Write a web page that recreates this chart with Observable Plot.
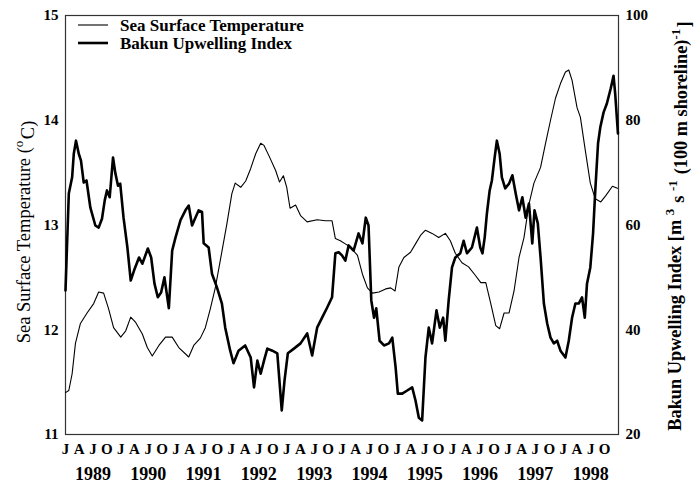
<!DOCTYPE html>
<html>
<head>
<meta charset="utf-8">
<script src="https://cdn.jsdelivr.net/npm/d3@7"></script>
<script src="https://cdn.jsdelivr.net/npm/@observablehq/plot@0.6"></script>
<style>
  html, body { margin: 0; padding: 0; background: #fff; }
</style>
</head>
<body>
<div id="chart"></div>
<script>
// Sea surface temperature (°C), decimal year vs value
const sstYear = [
  1989.00, 1989.06, 1989.12, 1989.18, 1989.27, 1989.39, 1989.51, 1989.60, 1989.69, 1989.78, 1989.87,
  1990.00, 1990.09, 1990.18, 1990.27, 1990.39, 1990.48, 1990.57, 1990.69, 1990.81, 1990.93,
  1991.05, 1991.23, 1991.32, 1991.44, 1991.53, 1991.62, 1991.71, 1991.80, 1991.92,
  1992.01, 1992.07, 1992.17, 1992.26, 1992.35, 1992.44, 1992.53, 1992.59, 1992.68, 1992.80, 1992.87, 1992.94,
  1993.00, 1993.06, 1993.16, 1993.25, 1993.37, 1993.55, 1993.70, 1993.82, 1993.88, 1993.97,
  1994.06, 1994.15, 1994.28, 1994.37, 1994.46, 1994.55, 1994.67, 1994.79, 1994.88, 1994.96,
  1995.03, 1995.12, 1995.24, 1995.33, 1995.42, 1995.51, 1995.63, 1995.75, 1995.87, 1995.96,
  1996.05, 1996.17, 1996.29, 1996.41, 1996.51, 1996.60, 1996.69, 1996.78, 1996.85, 1996.93,
  1997.02, 1997.11, 1997.20, 1997.29, 1997.38, 1997.47, 1997.59, 1997.68, 1997.77, 1997.86, 1997.95,
  1998.04, 1998.10, 1998.16, 1998.25, 1998.31, 1998.40, 1998.49, 1998.58, 1998.68, 1998.77, 1998.89, 1998.98
];
const sstValue = [
  11.40, 11.42, 11.58, 11.87, 12.06, 12.16, 12.25, 12.36, 12.35, 12.20, 12.02,
  11.93, 11.99, 12.12, 12.07, 11.96, 11.83, 11.75, 11.85, 11.93, 11.93,
  11.83, 11.74, 11.85, 11.92, 12.02, 12.20, 12.40, 12.66, 13.01,
  13.30, 13.40, 13.36, 13.42, 13.54, 13.68, 13.78, 13.76, 13.66, 13.52, 13.41, 13.47,
  13.36, 13.16, 13.19, 13.09, 13.03, 13.05, 13.04, 13.04, 12.87, 12.85,
  12.82, 12.79, 12.71, 12.53, 12.40, 12.35, 12.36, 12.39, 12.40, 12.37,
  12.60, 12.69, 12.74, 12.82, 12.90, 12.95, 12.92, 12.88, 12.92, 12.85,
  12.73, 12.64, 12.60, 12.52, 12.45, 12.45, 12.25, 12.04, 12.01, 12.16,
  12.16, 12.37, 12.69, 12.88, 13.20, 13.40, 13.55, 13.78, 14.00, 14.21, 14.35,
  14.46, 14.48, 14.38, 14.12, 14.03, 13.71, 13.40, 13.25, 13.22, 13.28, 13.37, 13.35
];

// Bakun upwelling index [m3 s-1 (100 m shoreline)-1], decimal year vs value
const bakunYear = [
  1989.00, 1989.06, 1989.12, 1989.15, 1989.19, 1989.24, 1989.28, 1989.33, 1989.38, 1989.45, 1989.54,
  1989.60, 1989.66, 1989.71, 1989.75, 1989.80, 1989.86, 1989.90, 1989.95, 1989.99,
  1990.05, 1990.12, 1990.18, 1990.24, 1990.33, 1990.39, 1990.49, 1990.55, 1990.61, 1990.67, 1990.73,
  1990.79, 1990.87, 1990.93, 1990.99,
  1991.08, 1991.17, 1991.23, 1991.29, 1991.35, 1991.41, 1991.47, 1991.50, 1991.59, 1991.65, 1991.74,
  1991.83, 1991.89, 1991.98,
  1992.04, 1992.13, 1992.25, 1992.35, 1992.41, 1992.47, 1992.53, 1992.59, 1992.65, 1992.74, 1992.83,
  1992.91, 1992.96,
  1993.02, 1993.13, 1993.25, 1993.37, 1993.46, 1993.55, 1993.64, 1993.73, 1993.82, 1993.88, 1993.94,
  1994.00, 1994.06, 1994.12, 1994.21, 1994.30, 1994.37, 1994.43, 1994.48, 1994.53, 1994.58, 1994.62,
  1994.68, 1994.76, 1994.85, 1994.91, 1994.97,
  1995.01, 1995.09, 1995.18, 1995.27, 1995.33, 1995.39, 1995.45, 1995.51, 1995.57, 1995.63, 1995.71,
  1995.77, 1995.83, 1995.87, 1995.93, 1995.99,
  1996.05, 1996.14, 1996.20, 1996.26, 1996.35, 1996.44, 1996.50, 1996.54, 1996.58, 1996.62, 1996.67,
  1996.71, 1996.76, 1996.80, 1996.85, 1996.89, 1996.95,
  1997.02, 1997.08, 1997.14, 1997.20, 1997.26, 1997.32, 1997.38, 1997.44, 1997.48, 1997.54, 1997.59,
  1997.65, 1997.71, 1997.77, 1997.83, 1997.89, 1997.95,
  1998.04, 1998.10, 1998.16, 1998.22, 1998.28, 1998.34, 1998.39, 1998.43, 1998.49, 1998.54, 1998.58,
  1998.63, 1998.67, 1998.73, 1998.79, 1998.86, 1998.91, 1998.94, 1998.99
];
const bakunValue = [
  47.5, 66.0, 69.1, 73.6, 76.1, 73.6, 72.3, 68.1, 68.5, 63.3, 59.9,
  59.5, 61.2, 64.7, 66.6, 65.3, 72.9, 70.0, 67.5, 67.9,
  61.4, 55.7, 49.4, 51.3, 53.8, 52.6, 55.5, 53.8, 48.8, 46.2, 47.1,
  50.0, 44.1, 55.1, 57.6,
  60.9, 62.8, 63.7, 59.9, 61.4, 62.8, 62.5, 56.5, 55.7, 50.7, 48.1,
  45.0, 40.4, 36.0,
  33.6, 36.0, 37.0, 34.7, 29.0, 34.1, 31.6, 34.1, 36.4, 36.0, 35.5,
  24.6, 30.3,
  35.5, 36.4, 37.4, 39.3, 35.1, 40.4, 42.3, 44.2, 46.2, 54.6, 54.8,
  54.2, 53.2, 56.1, 55.1, 58.4, 56.5, 61.4, 59.9, 45.6, 42.3, 44.1,
  37.9, 37.0, 37.4, 38.5, 32.8,
  27.8, 27.8, 28.4, 29.0, 26.5, 23.2, 22.7, 34.7, 40.4, 37.4, 43.7,
  40.4, 42.3, 37.9, 45.6, 51.9,
  53.8, 54.6, 57.0, 54.6, 55.7, 59.5, 55.7, 54.6, 57.6, 62.2, 66.6,
  68.5, 72.9, 76.1, 73.6, 69.1, 67.0,
  67.9, 69.5, 66.0, 62.8, 65.3, 61.4, 64.1, 56.5, 62.8, 60.3, 53.8,
  45.0, 41.2, 38.5, 37.4, 37.9, 36.0,
  34.7, 37.9, 42.3, 45.0, 45.0, 46.2, 42.3, 48.8, 51.9, 58.4, 66.6,
  75.6, 78.6, 81.5, 83.2, 86.1, 88.5, 85.1, 77.5
];

// Axis tick values and labels
const sstTicks = [11, 12, 13, 14, 15];
const bakunTicks = [20, 40, 60, 80, 100];
const quarterLetters = ["J", "A", "J", "O"];
const years = [1989, 1990, 1991, 1992, 1993, 1994, 1995, 1996, 1997, 1998];

// Decimal year -> UTC Date
function toDate(y) {
  const yr = Math.floor(y + 1e-9);
  const start = Date.UTC(yr, 0, 1), end = Date.UTC(yr + 1, 0, 1);
  return new Date(start + (y - yr) * (end - start));
}

// The upwelling index shares the temperature scale: 20..100 maps onto 11..15
const bakunToY = b => 11 + (b - 20) / 20;

const sst = sstYear.map((y, i) => ({date: toDate(y), value: sstValue[i]}));
const bakun = bakunYear.map((y, i) => ({date: toDate(y), value: bakunValue[i]}));

const start = new Date(Date.UTC(years[0], 0, 1));
const end = new Date(Date.UTC(years[years.length - 1] + 1, 0, 1));
const quarterTicks = d3.utcMonths(start, end, 3);
const yearTicks = years.map(y => new Date(Date.UTC(y, 6, 1)));

const font = "'Liberation Serif', 'Times New Roman', serif";

const chart = Plot.plot({
  width: 695,
  height: 485,
  marginLeft: 65,
  marginRight: 77,
  marginTop: 15,
  marginBottom: 51,
  style: {fontFamily: font, fontWeight: "bold", background: "#fff", color: "#000"},
  x: {type: "utc", domain: [start, end], axis: null},
  y: {domain: [11, 15], axis: null},
  marks: [
    Plot.frame({stroke: "#333", strokeWidth: 1.2}),
    Plot.line(sst, {x: "date", y: "value", stroke: "#000", strokeWidth: 1.1}),
    Plot.line(bakun, {x: "date", y: d => bakunToY(d.value), stroke: "#000", strokeWidth: 2.6, strokeLinejoin: "round"}),
    // left temperature ticks
    Plot.text(sstTicks, {y: d => d, text: d => String(d), frameAnchor: "left", textAnchor: "end",
      dx: -7, fontSize: 15, fontWeight: "bold"}),
    // right upwelling ticks
    Plot.text(bakunTicks, {y: d => bakunToY(d), text: d => String(d), frameAnchor: "right", textAnchor: "start",
      dx: 7, fontSize: 15, fontWeight: "bold"}),
    // quarter initials
    Plot.text(quarterTicks, {x: d => d, text: d => quarterLetters[d.getUTCMonth() / 3], frameAnchor: "bottom",
      lineAnchor: "top", dy: 9, fontSize: 15, fontWeight: "bold"}),
    // year labels centred on each year
    Plot.text(yearTicks, {x: d => d, text: d => String(d.getUTCFullYear()), frameAnchor: "bottom",
      lineAnchor: "top", dy: 33, fontSize: 18, fontWeight: "bold"})
  ]
});

document.getElementById("chart").appendChild(chart);

const svg = d3.select(chart);

// Legend inside the upper-left corner of the frame
const legend = svg.append("g")
  .attr("font-family", font).attr("font-weight", "bold").attr("font-size", 17)
  .attr("text-anchor", "start");
[["Sea Surface Temperature", 1.1, 25], ["Bakun Upwelling Index", 2.6, 43]].forEach(([label, w, y]) => {
  legend.append("line").attr("x1", 78).attr("x2", 108).attr("y1", y).attr("y2", y)
    .attr("stroke", "#000").attr("stroke-width", w);
  legend.append("text").attr("x", 120).attr("y", y).attr("dy", "0.35em").text(label);
});

// Axis titles with superscripts
function title(x, y, size, weight, parts) {
  const t = svg.append("text")
    .attr("transform", `translate(${x},${y}) rotate(-90)`)
    .attr("text-anchor", "middle")
    .attr("dy", "0.35em")
    .attr("font-family", font).attr("font-weight", weight).attr("font-size", size);
  parts.forEach(([s, sup]) => {
    if (sup) {
      t.append("tspan").attr("dy", "-0.55em").attr("font-size", size * 0.7).text(s);
      t.append("tspan").attr("dy", "0.55em").text("\u200a");
    } else {
      t.append("tspan").text(s);
    }
  });
}
title(24, 232, 18.5, "normal", [["Sea Surface Temperature ("], ["o", true], ["C)"]]);
title(675, 226, 18.3, "bold", [["Bakun Upwelling Index [m "], ["3", true], [" s "], ["-1", true], [" (100 m shoreline)"], ["-1", true], ["]"]]);
</script>
</body>
</html>
